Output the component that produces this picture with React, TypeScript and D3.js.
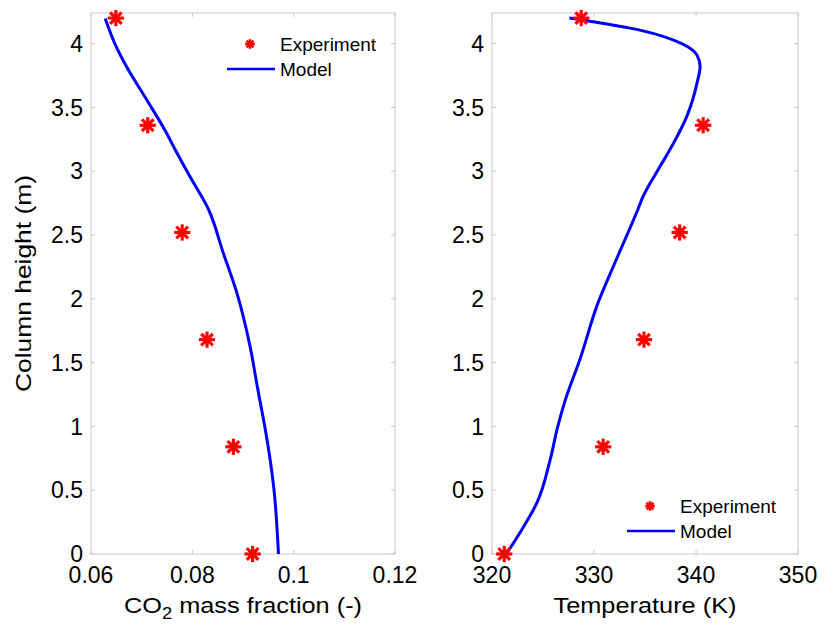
import * as d3 from 'd3';

// experiment (both panels share the same heights)
const expHeight = [0, 0.84, 1.68, 2.52, 3.36, 4.2];
const expCO2 = [0.0919, 0.0881, 0.0829, 0.078, 0.0712, 0.0649];
const expTemp = [321.2, 330.9, 334.9, 338.4, 340.7, 328.75];

// model, CO2 panel
const co2ModelHeight = [0, 0.51, 1.0, 1.21, 1.34, 1.626, 2.045, 2.36, 2.7, 2.96, 3.17, 3.3, 3.56, 3.82, 4.0, 4.196];
const co2Model = [0.097, 0.0961, 0.0943, 0.0933, 0.0927, 0.0914, 0.0888, 0.0861, 0.0832, 0.0795, 0.0766, 0.0749, 0.071, 0.067, 0.0647, 0.0628];

// model, temperature panel
const tempModelHeight = [0, 0.214, 0.4, 0.737, 1.0, 1.21, 1.52, 1.97, 2.31, 2.7, 2.8, 3.04, 3.22, 3.43, 3.69, 3.82, 3.91, 4.0, 4.1, 4.2];
const tempModel = [321.4, 323.1, 324.4, 325.7, 326.45, 327.2, 328.6, 330.4, 332.2, 334.3, 334.8, 336.5, 337.8, 339.1, 340.1, 340.4, 340.1, 338.6, 334.8, 327.6];

const yTicks = [0, 0.5, 1, 1.5, 2, 2.5, 3, 3.5, 4];
const co2Ticks = [0.06, 0.08, 0.1, 0.12];
const co2TickLabels = ['0.06', '0.08', '0.1', '0.12'];
const tempTicks = [320, 330, 340, 350];
const tempTickLabels = ['320', '330', '340', '350'];

const W = 825;
const H = 629;
const TOP = 13;
const BOTTOM = 554;
const FONT = 'Liberation Sans, Arial, sans-serif';
const GRID = '#c8c8c8';

const y = d3.scaleLinear().domain([0, 4.24]).range([BOTTOM, TOP]);

function Asterisk({ cx, cy, r, w }: { cx: number; cy: number; r: number; w: number }) {
  const d = r * 0.72;
  return (
    <g stroke="#ff0000" strokeWidth={w} strokeLinecap="square">
      <line x1={cx - r} y1={cy} x2={cx + r} y2={cy} />
      <line x1={cx} y1={cy - r} x2={cx} y2={cy + r} />
      <line x1={cx - d} y1={cy - d} x2={cx + d} y2={cy + d} />
      <line x1={cx - d} y1={cy + d} x2={cx + d} y2={cy - d} />
    </g>
  );
}

interface PanelProps {
  x0: number;
  x1: number;
  domain: [number, number];
  ticks: number[];
  tickLabels: string[];
  expX: number[];
  modelX: number[];
  modelY: number[];
  xLabel: React.ReactNode;
  xLabelWidth: number;
  legendX: number;
  legendY: number;
  showYLabel?: boolean;
}

function Panel({ x0, x1, domain, ticks, tickLabels, expX, modelX, modelY, xLabel, xLabelWidth, legendX, legendY, showYLabel }: PanelProps) {
  const x = d3.scaleLinear().domain(domain).range([x0, x1]);
  const pts = modelY.map((h, i) => [modelX[i], h] as [number, number]);
  const line = d3
    .line<[number, number]>()
    .x((d) => x(d[0]))
    .y((d) => y(d[1]))
    .curve(d3.curveMonotoneY);
  const tl = 4;

  return (
    <g>
      <rect x={x0} y={TOP} width={x1 - x0} height={BOTTOM - TOP} fill="none" stroke={GRID} strokeWidth={1} />
      {/* ticks, inside on all four sides */}
      {ticks.map((t) => (
        <g key={'xt' + t} stroke={GRID}>
          <line x1={x(t)} x2={x(t)} y1={BOTTOM} y2={BOTTOM - tl} />
          <line x1={x(t)} x2={x(t)} y1={TOP} y2={TOP + tl} />
        </g>
      ))}
      {yTicks.map((t) => (
        <g key={'yt' + t} stroke={GRID}>
          <line x1={x0} x2={x0 + tl} y1={y(t)} y2={y(t)} />
          <line x1={x1} x2={x1 - tl} y1={y(t)} y2={y(t)} />
        </g>
      ))}
      {ticks.map((t, i) => (
        <text key={'xl' + t} x={x(t)} y={583} textAnchor="middle" fontSize={23} fontFamily={FONT} fill="#000">
          {tickLabels[i]}
        </text>
      ))}
      {yTicks.map((t) => (
        <text key={'yl' + t} x={x0 - 8} y={y(t)} dy="0.36em" textAnchor="end" fontSize={23} fontFamily={FONT} fill="#000">
          {String(t)}
        </text>
      ))}
      <text
        x={(x0 + x1) / 2 - xLabelWidth / 2}
        y={613}
        textLength={xLabelWidth}
        lengthAdjust="spacingAndGlyphs"
        fontSize={22}
        fontFamily={FONT}
        fill="#000"
      >
        {xLabel}
      </text>
      {showYLabel && (
        <text
          transform={`translate(31,${(TOP + BOTTOM) / 2 + 217 / 2}) rotate(-90)`}
          textLength={217}
          lengthAdjust="spacingAndGlyphs"
          fontSize={22}
          fontFamily={FONT}
          fill="#000"
        >
          Column height (m)
        </text>
      )}

      <path d={line(pts) ?? ''} fill="none" stroke="#0000ff" strokeWidth={3} strokeLinejoin="round" />
      {expHeight.map((h, i) => (
        <Asterisk key={'e' + i} cx={x(expX[i])} cy={y(h)} r={6.5} w={3.2} />
      ))}

      {/* legend */}
      <Asterisk cx={legendX} cy={legendY} r={3.5} w={2.6} />
      <text x={legendX + 30} y={legendY + 7} fontSize={19} fontFamily={FONT} fill="#000">
        Experiment
      </text>
      <line x1={legendX - 23} x2={legendX + 25} y1={legendY + 25} y2={legendY + 25} stroke="#0000ff" strokeWidth={2.5} />
      <text x={legendX + 30} y={legendY + 32} fontSize={19} fontFamily={FONT} fill="#000">
        Model
      </text>
    </g>
  );
}

export default function App() {
  return (
    <svg width={W} height={H} style={{ position: 'absolute', left: 0, top: 0, background: '#fff' }}>
      <rect width={W} height={H} fill="#fff" />
      <Panel
        x0={91}
        x1={395}
        domain={[0.06, 0.12]}
        ticks={co2Ticks}
        tickLabels={co2TickLabels}
        expX={expCO2}
        modelX={co2Model}
        modelY={co2ModelHeight}
        xLabel={
          <>
            CO<tspan fontSize={16} dy={6}>2</tspan>
            <tspan dy={-6}> mass fraction (-)</tspan>
          </>
        }
        xLabelWidth={238}
        legendX={250}
        legendY={44}
        showYLabel
      />
      <Panel
        x0={492}
        x1={798}
        domain={[320, 350]}
        ticks={tempTicks}
        tickLabels={tempTickLabels}
        expX={expTemp}
        modelX={tempModel}
        modelY={tempModelHeight}
        xLabel="Temperature (K)"
        xLabelWidth={183}
        legendX={650}
        legendY={506}
      />
    </svg>
  );
}
